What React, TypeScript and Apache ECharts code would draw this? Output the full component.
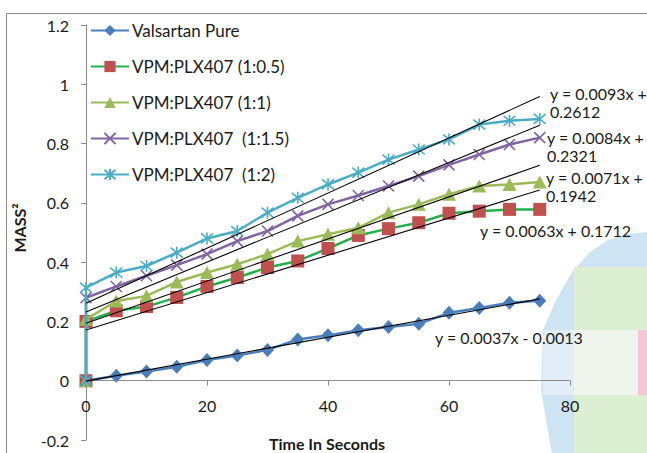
import React, { useEffect, useRef } from "react";
import * as echarts from "echarts";

const times = [0, 5, 10, 15, 20, 25, 30, 35, 40, 45, 50, 55, 60, 65, 70, 75];
const seriesNames = [
  "Valsartan Pure",
  "VPM:PLX407 (1:0.5)",
  "VPM:PLX407 (1:1)",
  "VPM:PLX407  (1:1.5)",
  "VPM:PLX407  (1:2)",
];
const valsartanPure = [0, 0.017, 0.031, 0.047, 0.07, 0.085, 0.104, 0.139, 0.153, 0.17, 0.181, 0.192, 0.229, 0.245, 0.263, 0.27];
const vpm1to05 = [0.2, 0.236, 0.25, 0.281, 0.318, 0.348, 0.382, 0.404, 0.446, 0.49, 0.513, 0.533, 0.565, 0.572, 0.578, 0.578];
const vpm1to1 = [0.207, 0.269, 0.286, 0.333, 0.365, 0.393, 0.427, 0.471, 0.494, 0.516, 0.567, 0.595, 0.629, 0.657, 0.662, 0.67];
const vpm1to15 = [0.28, 0.318, 0.354, 0.39, 0.427, 0.471, 0.505, 0.556, 0.595, 0.625, 0.657, 0.69, 0.728, 0.763, 0.797, 0.82];
const vpm1to2 = [0.314, 0.365, 0.387, 0.432, 0.48, 0.505, 0.567, 0.617, 0.662, 0.702, 0.746, 0.78, 0.814, 0.864, 0.877, 0.883];
// every formulation series starts from the origin before its first reading at t = 0
const startsAtOrigin = [false, true, true, true, true];

const trendSlopes = [0.0037, 0.0063, 0.0071, 0.0084, 0.0093];
const trendIntercepts = [-0.0013, 0.1712, 0.1942, 0.2321, 0.2612];
const trendRange = [0, 75];
const equationTexts = [
  "y = 0.0037x - 0.0013",
  "y = 0.0063x + 0.1712",
  "y = 0.0071x +\n0.1942",
  "y = 0.0084x +\n0.2321",
  "y = 0.0093x +\n0.2612",
];
const xAxisTitle = "Time In Seconds";
const yAxisTitle = "MASS²";

const FONT = "Lato, 'Liberation Sans', sans-serif";
const lineColors = ["#4a7ebb", "#22b14c", "#9bbb59", "#8064a2", "#4bacc6"];
const markerColors = ["#4a7ebb", "#c0504d", "#9bbb59", "#8064a2", "#4bacc6"];
const xPath = "path://M0,0L10,10M10,0L0,10";
const starPath = "path://M0,0L10,10M10,0L0,10M5,-1L5,11";
const symbols = ["diamond", "rect", "triangle", xPath, starPath];
const symbolSizes: any[] = [[13, 14], 13, [14, 13], 11, 12];
const eqPos = [
  { x: 435, y: 337, single: true },
  { x: 480, y: 230, single: true },
  { x: 546, y: 168 },
  { x: 547, y: 128 },
  { x: 550, y: 84 },
];

const GRID_TOP = 25;
const GRID_BOTTOM = 13;
const CHART_H = 453;
const Y_MIN = -0.2;
const Y_MAX = 1.2;

export default function App() {
  const ref = useRef<HTMLDivElement>(null);
  useEffect(() => {
    document.body.style.margin = "0";
    const chart = echarts.init(ref.current!, null, { renderer: "svg" });
    const allValues = [valsartanPure, vpm1to05, vpm1to1, vpm1to15, vpm1to2];
    const dataSeries = allValues.map((vals, i) => {
      const pts: number[][] = times.map((t, k) => [t, vals[k]]);
      if (startsAtOrigin[i]) pts.unshift([0, 0]);
      const isStroke = i >= 3;
      return {
        name: seriesNames[i],
        type: "line",
        data: pts,
        symbol: symbols[i],
        symbolSize: symbolSizes[i],
        showAllSymbol: true,
        lineStyle: { color: lineColors[i], width: 2.5 },
        itemStyle: isStroke
          ? { color: "rgba(0,0,0,0)", borderColor: markerColors[i], borderWidth: 1.6 }
          : { color: markerColors[i], borderWidth: 0 },
        z: 3 + i,
      };
    });
    const trendSeries = trendSlopes.map((m, i) => ({
      name: "trend" + i,
      type: "line",
      data: trendRange.map((x) => [x, m * x + trendIntercepts[i]]),
      symbol: "none",
      lineStyle: { color: "#000", width: 1.1 },
      z: 10,
      silent: true,
    }));
    const eqGraphics = equationTexts.map((t, i) => ({
      type: "text",
      x: eqPos[i].x,
      y: eqPos[i].y,
      z: 20,
      style: {
        text: t,
        fill: "#1a1a1a",
        fontSize: 16,
        fontFamily: FONT,
        lineHeight: 18,
        verticalAlign: eqPos[i].single ? "middle" : "top",
      },
    }));
    // distance from the grid bottom (y = -0.2) up to y = 0, where the time axis sits
    const plotH = CHART_H - GRID_TOP - GRID_BOTTOM;
    const zeroOffset = (plotH * (0 - Y_MIN)) / (Y_MAX - Y_MIN);
    chart.setOption({
      animation: false,
      backgroundColor: "#fff",
      grid: { left: 86, right: 77, top: GRID_TOP, bottom: GRID_BOTTOM, outerBoundsMode: "none", containLabel: false },
      legend: {
        data: seriesNames,
        orient: "vertical",
        left: 90,
        top: 22,
        padding: 0,
        itemWidth: 38,
        itemHeight: 14,
        itemGap: 19,
        textStyle: { fontSize: 17, fontFamily: FONT, color: "#1a1a1a", padding: [0, 0, 0, -2] },
      },
      xAxis: {
        type: "value",
        min: 0,
        max: 80,
        interval: 20,
        position: "bottom",
        offset: -zeroOffset,
        axisLine: { onZero: false, lineStyle: { color: "#8c8c8c", width: 1 } },
        axisTick: { inside: false, length: 5, lineStyle: { color: "#8c8c8c" } },
        axisLabel: { fontSize: 16, fontFamily: FONT, color: "#1a1a1a", margin: 17 },
        splitLine: { show: false },
      },
      yAxis: {
        type: "value",
        min: Y_MIN,
        max: Y_MAX,
        interval: 0.2,
        axisLine: { show: true, onZero: false, lineStyle: { color: "#8c8c8c", width: 1 } },
        axisTick: { show: true, length: 5, lineStyle: { color: "#8c8c8c" } },
        axisLabel: {
          fontSize: 16,
          fontFamily: FONT,
          color: "#1a1a1a",
          margin: 17,
          formatter: (v: number) => String(Math.round(v * 10) / 10),
        },
        splitLine: { show: false },
      },
      graphic: [
        {
          type: "rect",
          z: -10,
          shape: { x: 6.5, y: 13.5, width: 700, height: 500 },
          style: { fill: "none", stroke: "#8a8a8a", lineWidth: 1 },
        },
        {
          type: "polygon",
          z: -10,
          shape: {
            points: [
              [552, 453], [546, 420], [541, 390], [543, 330], [556, 300], [572, 272],
              [590, 252], [608, 240], [628, 234], [647, 232], [647, 453],
            ],
          },
          style: { fill: "#cfe4f2" },
        },
        {
          type: "rect",
          z: -9,
          shape: { x: 574, y: 267, width: 73, height: 186 },
          style: { fill: "#dcefd2" },
        },
        {
          type: "rect",
          z: -8,
          shape: { x: 574, y: 330, width: 73, height: 65 },
          style: { fill: "#eff5ec" },
        },
        {
          type: "rect",
          z: -7,
          shape: { x: 638, y: 330, width: 9, height: 65 },
          style: { fill: "#f4c6d6" },
        },
        {
          type: "rect",
          z: -8,
          shape: { x: 543, y: 330, width: 31, height: 65 },
          style: { fill: "#e3edf7" },
        },
        ...eqGraphics,
        {
          type: "text",
          x: 327,
          y: 443,
          z: 20,
          style: {
            text: xAxisTitle,
            fill: "#1a1a1a",
            fontSize: 16,
            fontWeight: "bold",
            fontFamily: FONT,
            align: "center",
            verticalAlign: "middle",
          },
        },
        {
          type: "text",
          x: 19,
          y: 228,
          rotation: Math.PI / 2,
          z: 20,
          style: {
            text: yAxisTitle,
            fill: "#1a1a1a",
            fontSize: 16,
            fontWeight: "bold",
            fontFamily: FONT,
            align: "center",
            verticalAlign: "middle",
          },
        },
      ],
      series: [...dataSeries, ...trendSeries],
    });
    return () => chart.dispose();
  }, []);
  return <div ref={ref} style={{ width: 647, height: 453 }} />;
}
